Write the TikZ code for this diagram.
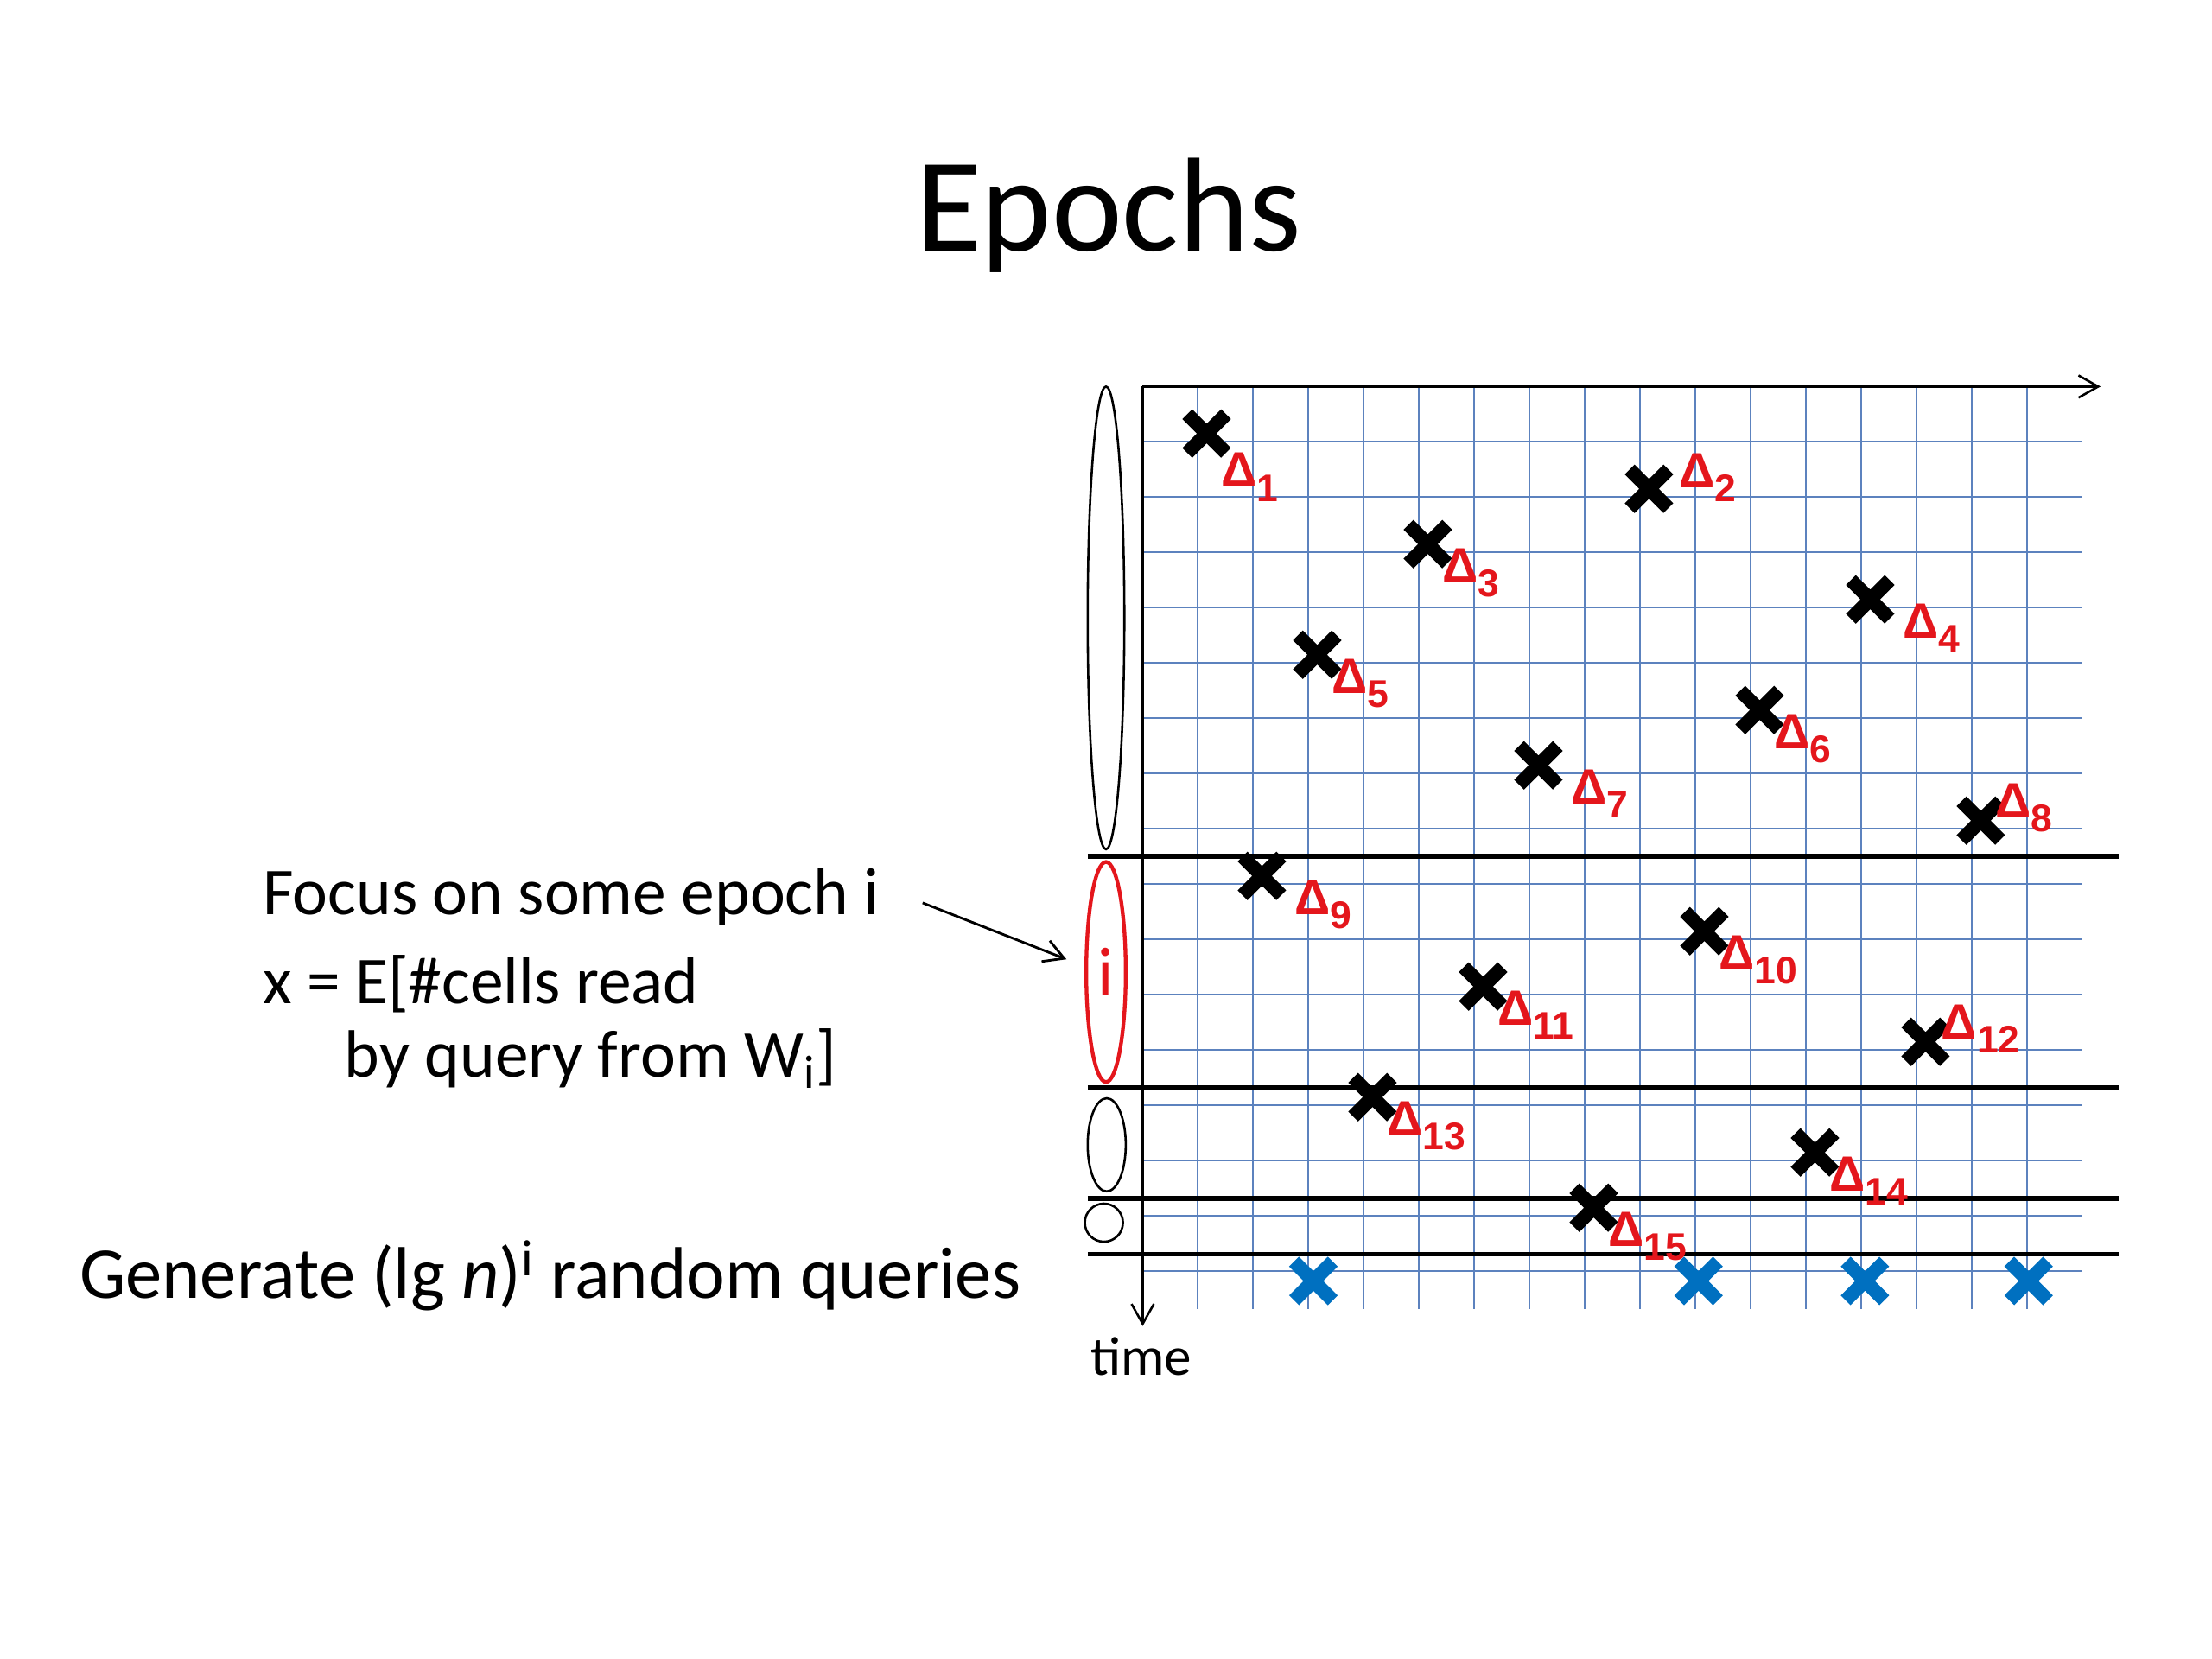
\documentclass[tikz,border=0pt]{standalone}
\usepackage{fontspec}
\setmainfont{Carlito}
\newfontfamily\labfont{Liberation Sans}
\usetikzlibrary{shapes.geometric,shapes.misc,arrows.meta,calc}
\definecolor{gridblue}{RGB}{92,130,190}
\definecolor{dred}{RGB}{228,22,28}
\definecolor{qblue}{RGB}{0,112,192}
\begin{document}
\begin{tikzpicture}[x=0.02cm,y=-0.02cm,
  gridline/.style={gridblue,line width=0.7pt},
  epochline/.style={black,line width=2pt},
  axisline/.style={black,line width=0.9pt,-{Straight Barb[length=8pt,width=9pt]}},
  epochell/.style={ellipse,draw,line width=0.9pt,inner sep=0pt},
  xmk/.style={cross out,draw=black,line width=5.6pt,minimum size=17.6*0.02cm,inner sep=0pt},
  dlab/.style={text=dred,anchor=base west,inner sep=0pt,font=\labfont\bfseries\fontsize{20}{20}\selectfont},
  txt/.style={anchor=base west,inner sep=0pt,font=\fontsize{27}{32}\selectfont}
]
\fill[white] (0,0) rectangle (1568,1176);
\useasboundingbox (0,0) rectangle (1568,1176);

% title
\node[anchor=base,inner sep=0pt,font=\fontsize{54}{60}\selectfont] (title) at (786,178) {Epochs};

% grid
\foreach \i in {1,...,16} \draw[gridline] ({810+39.2*\i},274) -- ({810+39.2*\i},928);
\foreach \i in {1,...,16} \draw[gridline] (810,{274+39.2*\i}) -- (1476,{274+39.2*\i});

% epoch separators
\foreach \yy in {607,771,849.5,889} \draw[epochline] (771,\yy) -- (1502,\yy);

% axes
\coordinate (O) at (810,274);
\coordinate (xend) at (1489,274);
\coordinate (tend) at (810,940);
\draw[axisline] (O) -- (xend);
\draw[axisline] (O) -- (tend);
\node[anchor=base,inner sep=0pt,font=\fontsize{22}{26}\selectfont] (time) at (809,975) {time};

% epoch ellipses
\node[epochell,minimum width=26*0.02cm,minimum height=328*0.02cm] (e1) at (784,438) {};
\node[epochell,draw=dred,line width=1.5pt,text=dred,minimum width=28*0.02cm,minimum height=156*0.02cm,font=\fontsize{28}{30}\selectfont] (e2) at (784,689) {i};
\node[epochell,minimum width=27*0.02cm,minimum height=66*0.02cm] (e3) at (784.5,811.5) {};
\node[epochell,minimum width=27*0.02cm,minimum height=27*0.02cm] (e4) at (782.5,866.7) {};

% updates
\foreach \k/\j/\dx/\dy in {1/0/10/38, 2/8/21/-1, 3/4/10/27.3, 4/12/23/27.3, 5/2/10/27.3,
  6/10/10/27.3, 7/6/23/27.3, 8/14/10/-2, 9/1/23/27.3, 10/9/10/27.3, 11/5/10/27.3,
  12/13/11/-2, 13/3/10/27.3, 14/11/10/27.3, 15/7/10/27.3} {
  \node[xmk] (d\k) at ({855.3+39.2*\j},{307.3+39.2*(\k-1)}) {};
  \node[dlab] (l\k) at ($(d\k)+(\dx,\dy)$) {Δ\raisebox{-5.7pt}{\fontsize{15.5}{15.5}\selectfont\k}};
}

% queries
\node[xmk,draw=qblue] (q1) at (931,908) {};
\node[xmk,draw=qblue] (q2) at (1204,908) {};
\node[xmk,draw=qblue] (q3) at (1322,908) {};
\node[xmk,draw=qblue] (q4) at (1438,908) {};

% left texts
\node[txt] (focus) at (186,648.5) {Focus on some epoch i};
\node[txt] (xdef) at (186,711.5) {x = E[\#cells read};
\node[txt] (byq) at (244,763.6) {by query from W\textsubscript{i}]};
\node[txt,font=\fontsize{29.5}{36}\selectfont] (gen) at (56,920.4) {Generate (lg \textit{n})\textsuperscript{i} random queries};

\coordinate (fa) at (654,640);
\coordinate (fb) at (756,680);
\draw[black,line width=1pt,-{Straight Barb[length=8pt,width=9pt]}] (fa) -- (fb);
\end{tikzpicture}
\end{document}
